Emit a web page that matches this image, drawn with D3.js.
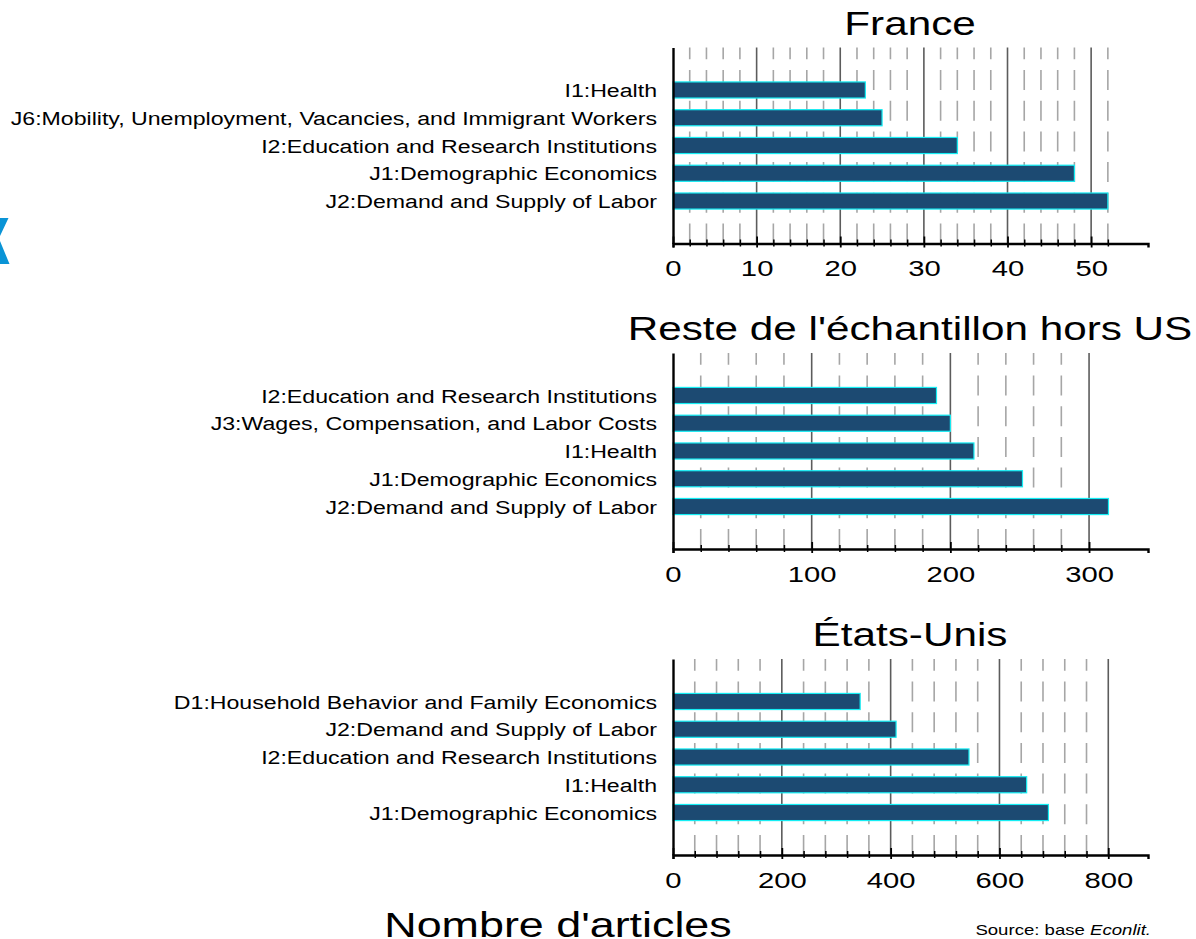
<!DOCTYPE html>
<html>
<head>
<meta charset="utf-8">
<script src="https://d3js.org/d3.v7.min.js"></script>
<style>
  body { margin: 0; background: #fff; }
  svg { display: block; font-family: "Liberation Sans", Arial, sans-serif; }
</style>
</head>
<body>
<svg id="chart" width="1196" height="939"></svg>
<script>
// Values, top row first
const franceCats = ["I1:Health", "J6:Mobility, Unemployment, Vacancies, and Immigrant Workers",
    "I2:Education and Research Institutions", "J1:Demographic Economics", "J2:Demand and Supply of Labor"];
const franceValues = [23, 25, 34, 48, 52];
const franceMajor = [0, 10, 20, 30, 40, 50];
const franceMinor = [2, 4, 6, 8, 12, 14, 16, 18, 22, 24, 26, 28, 32, 34, 36, 38, 42, 44, 46, 48, 52];

const resteCats = ["I2:Education and Research Institutions", "J3:Wages, Compensation, and Labor Costs",
    "I1:Health", "J1:Demographic Economics", "J2:Demand and Supply of Labor"];
const resteValues = [190, 200, 217, 252, 314];
const resteMajor = [0, 100, 200, 300];
const resteMinor = [20, 40, 60, 80, 120, 140, 160, 180, 220, 240, 260, 280];

const usCats = ["D1:Household Behavior and Family Economics", "J2:Demand and Supply of Labor",
    "I2:Education and Research Institutions", "I1:Health", "J1:Demographic Economics"];
const usValues = [344, 410, 544, 650, 690];
const usMajor = [0, 200, 400, 600, 800];
const usMinor = [40, 80, 120, 160, 240, 280, 320, 360, 440, 480, 520, 560, 640, 680, 720, 760];

// the original image is stretched sideways, so all text is too
const stretch = 1.3;

const svg = d3.select("#chart");

// the cut-off logo at the left edge
svg.append("path")
    .attr("d", "M0,218 L8.5,218 L0,236 L0,241 L9.5,264 L0,264 Z")
    .attr("fill", "#0a94d6");

function wideText(x, y, size, anchor) {
    return svg.append("text")
        .attr("transform", `translate(${x},${y}) scale(${stretch},1)`)
        .attr("text-anchor", anchor)
        .attr("font-size", size);
}

function drawPanel(title, cats, values, major, minor, xMax, top) {
    const left = 673, right = 1148, bottom = top + 196;

    const x = d3.scaleLinear().domain([0, xMax]).range([left, right]);
    const y = d3.scaleBand().domain(cats).range([top, bottom])
        .paddingInner(0.42).paddingOuter(1.24);

    const g = svg.append("g");

    // dashed minor grid, dash pattern starts from the axis
    g.selectAll("line.minor").data(minor).join("line")
        .attr("class", "minor")
        .attr("x1", d => x(d)).attr("x2", d => x(d))
        .attr("y1", bottom).attr("y2", top)
        .attr("stroke", "#a6a6a6")
        .attr("stroke-width", 1.6)
        .attr("stroke-dasharray", "20 10.7");

    // solid major grid
    g.selectAll("line.major").data(major.slice(1)).join("line")
        .attr("class", "major")
        .attr("x1", d => x(d)).attr("x2", d => x(d))
        .attr("y1", bottom).attr("y2", top)
        .attr("stroke", "#5c5c5c")
        .attr("stroke-width", 1.6);

    g.selectAll("rect").data(values).join("rect")
        .attr("x", x(0))
        .attr("y", (d, i) => y(cats[i]))
        .attr("width", d => x(d) - x(0))
        .attr("height", y.bandwidth())
        .attr("fill", "#1c4a72")
        .attr("stroke", "#14eef4")
        .attr("stroke-width", 1.2);

    // minor ticks, no labels
    g.append("g")
        .attr("transform", `translate(0,${bottom})`)
        .call(d3.axisBottom(x).tickValues(minor).tickSize(3).tickFormat(""))
        .call(a => a.select(".domain").remove())
        .call(a => a.selectAll("line").attr("y1", -4).attr("stroke-width", 1.5));

    const xAxis = g.append("g")
        .attr("transform", `translate(0,${bottom})`)
        .call(d3.axisBottom(x).tickValues(major).tickSizeOuter(0).tickSize(4).tickPadding(13));
    xAxis.select(".domain").attr("stroke-width", 2.4);
    xAxis.selectAll("line").attr("y1", -7).attr("stroke-width", 1.8);
    xAxis.selectAll("text")
        .attr("font-size", 22.5).attr("font-family", "Liberation Sans").attr("fill", "#000")
        .attr("transform", `scale(${stretch},1)`);

    const yAxis = g.append("g")
        .attr("transform", `translate(${left},0)`)
        .call(d3.axisLeft(y).tickSize(0).tickSizeOuter(0).tickPadding(16));
    yAxis.select(".domain").attr("stroke-width", 2.4);
    yAxis.selectAll("text")
        .attr("font-size", 17.8).attr("font-family", "Liberation Sans").attr("fill", "#000")
        .attr("x", -16 / stretch)
        .attr("transform", `translate(0,1.5) scale(${stretch},1)`);

    wideText(910, top - 13, 32.5, "middle").text(title);
}

drawPanel("France", franceCats, franceValues, franceMajor, franceMinor, 56.8, 47.5);
drawPanel("Reste de l'échantillon hors US", resteCats, resteValues, resteMajor, resteMinor, 342.5, 353);
drawPanel("États-Unis", usCats, usValues, usMajor, usMinor, 873, 659);

wideText(558, 937, 34.5, "middle").text("Nombre d'articles");

const source = wideText(1151, 935, 14.3, "end");
source.append("tspan").text("Source: base ");
source.append("tspan").attr("font-style", "italic").text("Econlit.");
</script>
</body>
</html>
